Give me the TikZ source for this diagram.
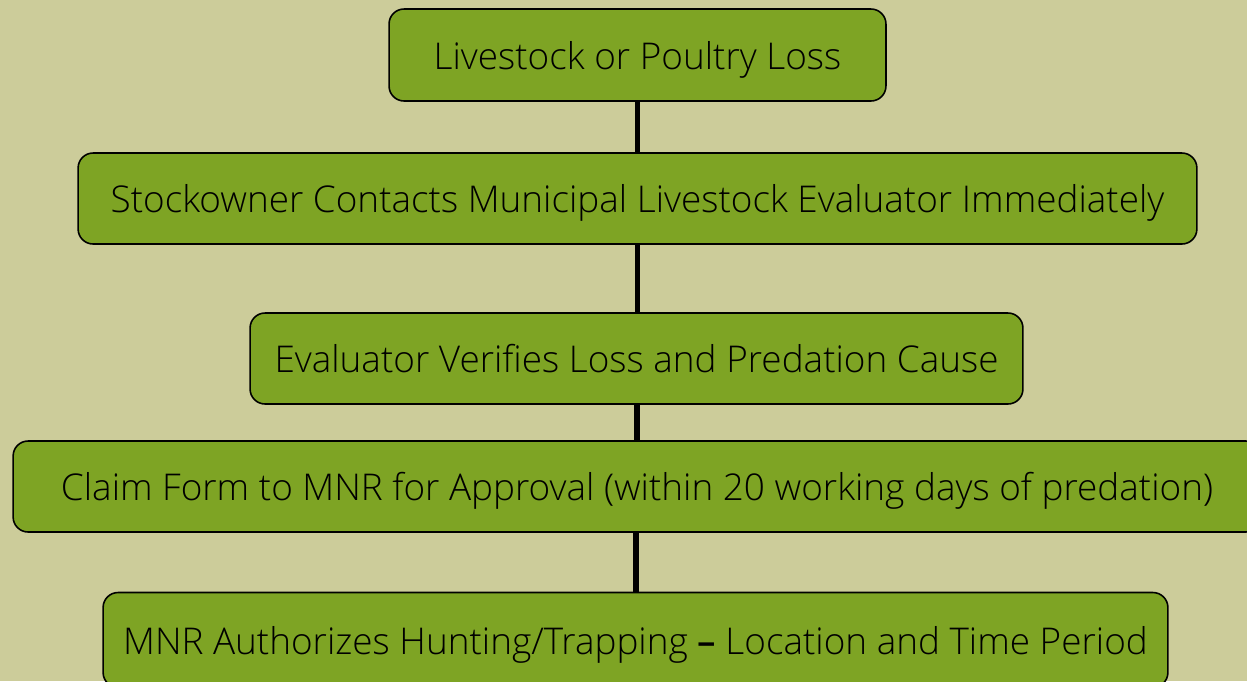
\documentclass[tikz,border=0pt]{standalone}
\usepackage{fontspec}
\setmainfont{Open Sans Light}
\definecolor{bgkhaki}{HTML}{CCCC9A}
\definecolor{boxgreen}{HTML}{7EA424}
\begin{document}
\begin{tikzpicture}[x=0.02cm, y=-0.02cm,
  stepbox/.style={draw=black, line width=0.9pt, fill=boxgreen, rounded corners=0.3cm,
    inner sep=0pt, text depth=0pt, font=\fontsize{21}{25}\selectfont, text=black},
  link/.style={line width=3.3pt, black}]
% Background and bounding box
\fill[bgkhaki] (0,0) rectangle (1247,681);
\useasboundingbox (0,0) rectangle (1247,681);
\begin{scope}
\clip (0,0) rectangle (1247,681);
% Boxes of the procedure
\node[stepbox, minimum width=9.94cm, minimum height=1.84cm] (loss) at (637.5,55) {Livestock or Poultry Loss};
\node[stepbox, minimum width=22.38cm, minimum height=1.82cm] (contact) at (637.5,198.5) {Stockowner Contacts Municipal Livestock Evaluator Immediately};
\node[stepbox, minimum width=15.46cm, minimum height=1.82cm] (verify) at (636.5,358.5) {Evaluator Verifies Loss and Predation Cause};
\node[stepbox, minimum width=24.96cm, minimum height=1.82cm] (claim) at (637,486.5) {Claim Form to MNR for Approval (within 20 working days of predation)};
\node[stepbox, minimum width=21.3cm, minimum height=1.9cm] (hunt) at (635.5,640) {MNR Authorizes Hunting/Trapping \textbf{--} Location and Time Period};
% Connectors
\draw[link] (loss.south -| 637.5,0) -- (contact.north -| 637.5,0);
\draw[link] (contact.south -| 637.5,0) -- (verify.north -| 637.5,0);
\draw[link] (verify.south -| 637,0) -- (claim.north -| 637,0);
\draw[link] (claim.south -| 636,0) -- (hunt.north -| 636,0);
\end{scope}
\end{tikzpicture}
\end{document}
